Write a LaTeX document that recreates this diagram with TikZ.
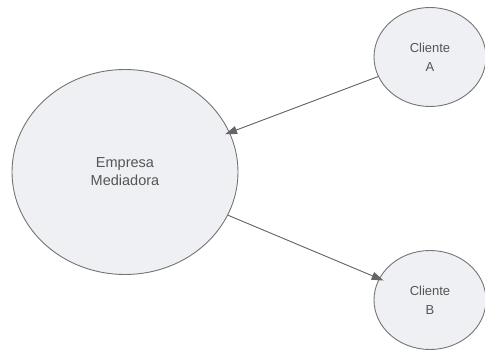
\documentclass[tikz,border=0pt]{standalone}
\usepackage{fontspec}
\setmainfont{Liberation Sans}
\usepackage{tikz}
\usetikzlibrary{arrows.meta,shapes.geometric}
\definecolor{bubblefill}{HTML}{EEF0F4}
\definecolor{bubbleline}{HTML}{747474}
\definecolor{inkgray}{HTML}{555555}
\definecolor{arrowgray}{HTML}{666666}

\begin{document}
\begin{tikzpicture}[x=1pt, y=-1pt, >={Triangle[length=12pt,width=8pt]},
  bubble/.style={draw=bubbleline, line width=0.9pt, fill=bubblefill, ellipse, inner sep=0pt, text=inkgray, align=center},
  big/.style={bubble, minimum width=226pt, minimum height=205pt, font=\fontsize{14.5}{18}\selectfont},
  small/.style={bubble, minimum width=112pt, minimum height=99pt, font=\fontsize{13}{19}\selectfont},
  link/.style={->, draw=arrowgray, fill=arrowgray!80!black, line width=0.9pt, shorten >=-5pt}]
\useasboundingbox (0,0) rectangle (485,350);
\node[big] (emp) at (125,172) {Empresa\\ Mediadora};
\node[small] (ca) at (430,57) {Cliente\\ A};
\node[small] (cb) at (430,300) {Cliente\\ B};
\draw[link] (ca) -- (emp);
\draw[link] (emp) -- (cb);
\end{tikzpicture}
\end{document}
